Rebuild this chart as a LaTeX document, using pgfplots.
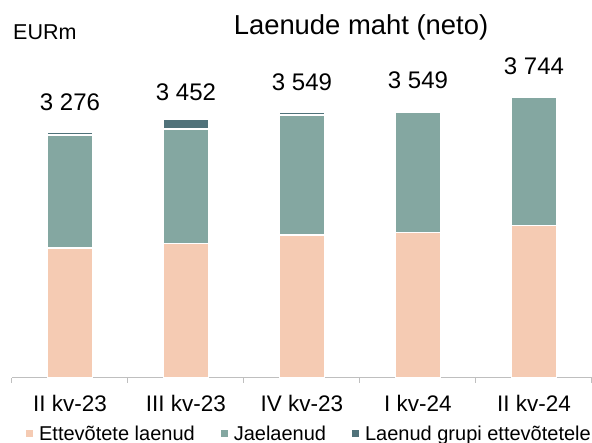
\documentclass[border=0pt]{standalone}
\usepackage{pgfplots}
\pgfplotsset{compat=1.18}
\usepackage{fontspec}
\setmainfont{Liberation Sans}
\definecolor{cPeach}{HTML}{F5CBB3}
\definecolor{cTeal}{HTML}{84A7A1}
\definecolor{cDark}{HTML}{50727A}
\definecolor{cAxis}{HTML}{BFBFBF}
\begin{document}
\begin{tikzpicture}
\path[use as bounding box] (-12pt,-65pt) rectangle (580pt,378pt);
\begin{axis}[
  at={(0pt,0pt)}, anchor=south west,
  scale only axis, width=580pt, height=300pt,
  ybar stacked, bar width=45pt,
  xmin=-0.5, xmax=4.5, ymin=0, ymax=4000,
  enlargelimits=false,
  axis x line*=bottom, axis y line=none, ytick=\empty,
  x axis line style={cAxis, line width=1pt},
  xtick={0,1,2,3,4},
  xticklabels={II kv-23, III kv-23, IV kv-23, I kv-24, II kv-24},
  minor xtick={-0.5,0.5,1.5,2.5,3.5,4.5},
  major tick length=0pt, minor tick length=5pt, tick align=outside,
  xtick style={cAxis, line width=1pt},
  xticklabel style={font=\fontsize{22.5}{27}\selectfont, anchor=base, inner sep=0pt, yshift=-33.7pt},
  clip=false,
  legend columns=3,
  legend style={draw=none, fill=none, at={(0.024,-0.186)}, anchor=west,
    font=\fontsize{20}{24}\selectfont, inner sep=0pt, column sep=6pt,
    nodes={inner sep=0pt},
    /tikz/every even column/.append style={column sep=26pt}},
  legend image code/.code={\path[#1, draw=none] (0pt,-3.5pt) rectangle (7pt,3.5pt);},
]
\addplot[fill=cPeach, draw=white, line width=1.5pt] coordinates {(0,1730) (1,1796) (2,1907) (3,1937) (4,2033)};
\addlegendentry{Ettevõtete laenud}
\addplot[fill=cTeal, draw=white, line width=1.5pt] coordinates {(0,1510) (1,1526) (2,1597) (3,1612) (4,1711)};
\addlegendentry{Jaelaenud}
\addplot[fill=cDark, draw=white, line width=1.5pt,
  point meta=explicit symbolic, nodes near coords,
  nodes near coords style={font=\fontsize{24}{29}\selectfont, text=black, anchor=base, inner sep=0pt, yshift=23pt}]
  coordinates {(0,36)[3 276] (1,130)[3 452] (2,45)[3 549] (3,0.01)[3 549] (4,0.01)[3 744]};
\addlegendentry{Laenud grupi ettevõtetele}
\end{axis}
\node[anchor=base, inner sep=0pt, font=\fontsize{27.4}{33}\selectfont] at (349pt,343pt) {Laenude maht (neto)};
\node[anchor=base west, inner sep=0pt, font=\fontsize{21.5}{26}\selectfont] at (1pt,338pt) {EURm};
\end{tikzpicture}
\end{document}
